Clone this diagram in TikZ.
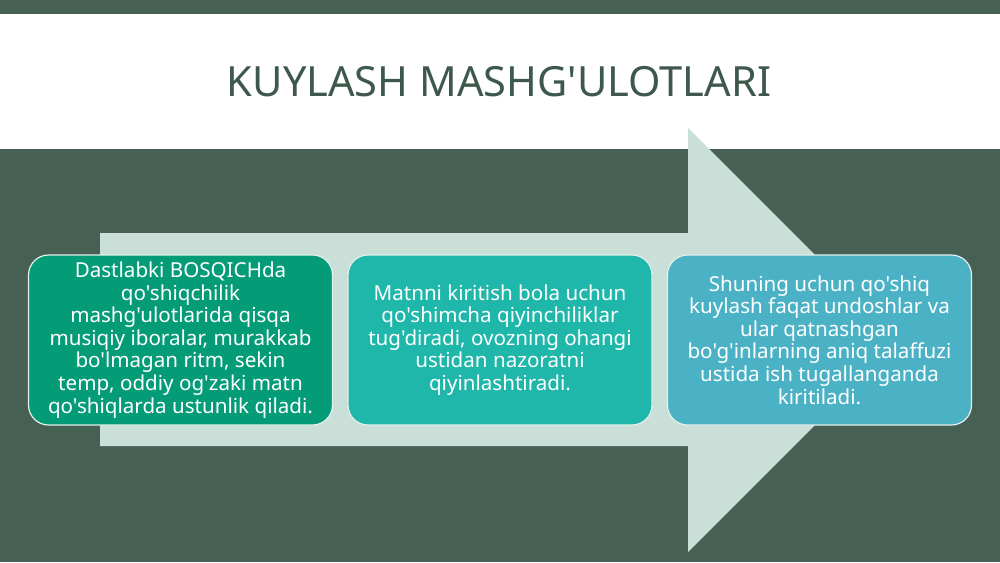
\documentclass[tikz,border=0pt]{standalone}
\usepackage{fontspec}
\setmainfont{Noto Sans}[Ligatures=TeXOff]
\usetikzlibrary{positioning}
\definecolor{darkbg}{RGB}{71,96,84}
\definecolor{lightarrow}{RGB}{202,223,215}
\definecolor{titlecol}{RGB}{62,88,76}
\definecolor{boxA}{RGB}{4,156,118}
\definecolor{boxB}{RGB}{30,183,170}
\definecolor{boxC}{RGB}{75,178,198}
\definecolor{edgecol}{RGB}{225,240,235}
\tikzset{
  stagebox/.style={draw=edgecol, line width=1.2pt, rounded corners=20pt,
    minimum width=304pt, minimum height=170pt, text=white, align=center,
    font=\fontsize{20.6}{22.6}\selectfont, inner sep=2pt}
}
\begin{document}
\begin{tikzpicture}[x=1pt,y=-1pt]
\useasboundingbox (0,0) rectangle (1000,562);
% background
\fill[darkbg] (0,0) rectangle (1000,562);
\fill[white] (0,14) rectangle (1000,149);
% big arrow
\fill[lightarrow] (100,233) -- (688,233) -- (688,128) -- (900,340) -- (688,552) -- (688,446) -- (100,446) -- cycle;
% title
\node[text=titlecol, font=\fontsize{41.6}{46}\selectfont] (title) at (499,82) {KUYLASH MASHG'ULOTLARI};
% boxes
\node[stagebox, fill=boxA] (b1) at (180.5,340) {Dastlabki BOSQICHda\\qo'shiqchilik\\mashg'ulotlarida qisqa\\musiqiy iboralar, murakkab\\bo'lmagan ritm, sekin\\temp, oddiy og'zaki matn\\qo'shiqlarda ustunlik qiladi.};
\node[stagebox, fill=boxB] (b2) at (500,340) {Matnni kiritish bola uchun\\qo'shimcha qiyinchiliklar\\tug'diradi, ovozning ohangi\\ustidan nazoratni\\qiyinlashtiradi.};
\node[stagebox, fill=boxC] (b3) at (819.5,340) {Shuning uchun qo'shiq\\kuylash faqat undoshlar va\\ular qatnashgan\\bo'g'inlarning aniq talaffuzi\\ustida ish tugallanganda\\kiritiladi.};
\end{tikzpicture}
\end{document}
